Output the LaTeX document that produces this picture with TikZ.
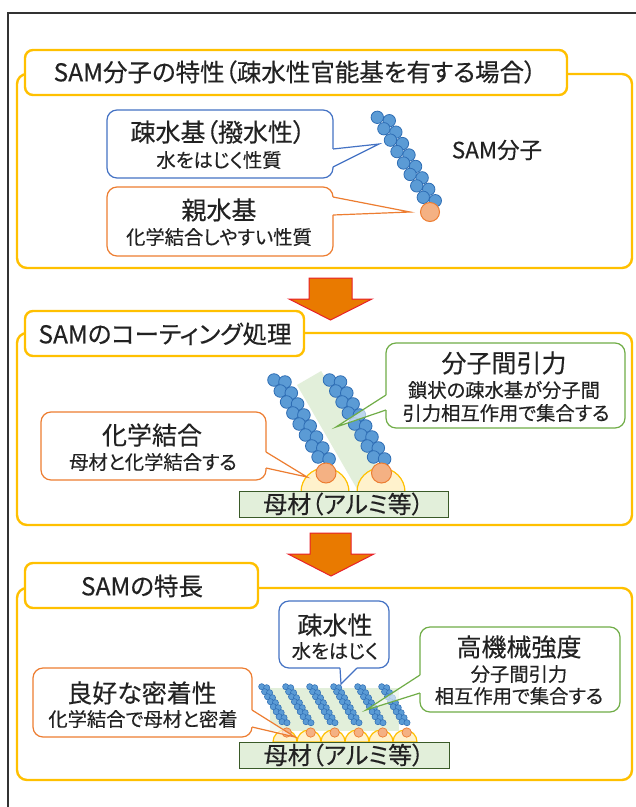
\documentclass[tikz,border=0pt]{standalone}
\usepackage{fontspec}
\setmainfont{Noto Sans CJK JP}[RawFeature={+palt}, FakeBold=0.35]
\definecolor{secyellow}{HTML}{FFC000}
\definecolor{callblue}{HTML}{4472C4}
\definecolor{callorange}{HTML}{ED7D31}
\definecolor{callgreen}{HTML}{70AD47}
\definecolor{beadfill}{HTML}{5B9BD5}
\definecolor{beadline}{HTML}{2E6DB4}
\definecolor{headfill}{HTML}{F4B183}
\definecolor{cupfill}{HTML}{FFF2CC}
\definecolor{shadegreen}{HTML}{E2EFDA}
\definecolor{subfill}{HTML}{E2EFDA}
\definecolor{subline}{HTML}{3A5A28}
\definecolor{arrowfill}{HTML}{E97A00}
\definecolor{arrowline}{HTML}{E8202A}
\definecolor{ink}{HTML}{222222}
\definecolor{framecol}{HTML}{333333}

% two staggered rows of beads: x0, y0, last index, radius, step dx, step dy, row offset dx, dy
\newcommand\molchain[9]{%
  \foreach \i in {0,...,#3}{%
    \path[#9] (#1+\i*#5, #2+\i*#6) circle[radius=#4];
    \path[#9] (#1+#7+\i*#5, #2+#8+\i*#6) circle[radius=#4];
  }}
% callout pointer: colour, base point 1, base point 2, tip
\newcommand\pointer[4]{%
  \draw[white, line width=2.6pt] (#2) -- (#3);
  \fill[white, fill opacity=.6] (#2) -- (#4) -- (#3) -- cycle;
  \draw[pointerline=#1] (#2) -- (#4) -- (#3);
}

\tikzset{
  section/.style={draw=secyellow, line width=2.4pt, rounded corners=10pt, fill=white, inner sep=0pt},
  titlebox/.style={draw=secyellow, line width=2.4pt, rounded corners=8pt, fill=white, inner sep=0pt},
  callbox/.style={draw=#1, line width=1.2pt, rounded corners=10pt, fill=white, inner sep=0pt},
  ttl/.style={text=ink, inner sep=0pt, font=\fontsize{24.5}{24.5}\selectfont},
  head/.style={text=ink, inner sep=0pt, font=\fontsize{25}{25}\selectfont},
  sub/.style={text=ink, inner sep=0pt, font=\fontsize{19.3}{19.3}\selectfont},
  bead/.style={fill=beadfill, draw=beadline, line width=0.8pt},
  smallbead/.style={fill=beadfill, draw=beadline, line width=0.5pt},
  headgroup/.style={fill=headfill, draw=callorange, line width=1pt},
  cup/.style={fill=cupfill, draw=secyellow, line width=1.2pt},
  substrate/.style={fill=subfill, draw=subline, line width=1pt, text=ink,
    font=\fontsize{24}{24}\selectfont, inner sep=0pt},
  bigarrow/.style={fill=arrowfill, draw=arrowline, line width=1pt, line join=miter},
  pointerline/.style={draw=#1, line width=1.2pt, line join=miter},
}

\begin{document}
\begin{tikzpicture}[x=1pt, y=-1pt]
\useasboundingbox (0,0) rectangle (636,807);
\fill[white] (0,0) rectangle (636,807);
\draw[framecol, line width=1.2pt] (8,13) rectangle (700,900);

% ---------- section frames ----------
\node[section, minimum width=615pt, minimum height=194pt] (sec1) at (324.5,171) {};
\node[titlebox, minimum width=542pt, minimum height=45pt] (sec1title) at (296,72.5) {};
\node[ttl] (t1) at (295,72) {SAM分子の特性（疎水性官能基を有する場合）};

\node[section, minimum width=615pt, minimum height=192pt] (sec2) at (324.5,429) {};
\node[titlebox, minimum width=279pt, minimum height=45pt] (sec2title) at (164.5,333.5) {};
\node[ttl] (t2) at (165,334) {SAMのコーティング処理};

\node[section, minimum width=615pt, minimum height=192pt] (sec3) at (324.5,684) {};
\node[titlebox, minimum width=233pt, minimum height=45pt] (sec3title) at (141.5,585.5) {};
\node[ttl] (t3) at (142,586) {SAMの特長};

% ---------- block arrows between sections ----------
\draw[bigarrow] (309,278) -- (352,278) -- (352,299) -- (372,299) -- (330.5,320)
  -- (289,299) -- (309,299) -- cycle;
\draw[bigarrow] (310,533) -- (351,533) -- (351,554) -- (374,554) -- (331,576)
  -- (288,554) -- (310,554) -- cycle;

% ---------- section 1: a single molecule ----------
\molchain{377.3}{117.3}{7}{6.2}{6.57}{11.43}{12}{3.4}{bead}
\path[headgroup] (430,212) circle[radius=9.5];
\coordinate (m1tail) at (379,144);
\coordinate (m1head) at (410,212);
\node[text=ink, inner sep=0pt, font=\fontsize{22.5}{22.5}\selectfont] (samlabel) at (497,150) {SAM分子};

\node[callbox=callblue, minimum width=226pt, minimum height=68pt] (c1a) at (220,144) {};
\node[head] at (218,132) {疎水基（撥水性）};
\node[sub] at (219,160) {水をはじく性質};
\coordinate (c1a1) at (333,149);
\coordinate (c1a2) at (333,167);
\pointer{callblue}{c1a1}{c1a2}{m1tail}

\node[callbox=callorange, minimum width=226pt, minimum height=69pt] (c1b) at (220,221.5) {};
\node[head] at (219,210) {親水基};
\node[sub] at (219,237) {化学結合しやすい性質};
\coordinate (c1b1) at (333,197);
\coordinate (c1b2) at (333,215);
\pointer{callorange}{c1b1}{c1b2}{m1head}

% ---------- section 2: coating ----------
\fill[shadegreen] (297,385) -- (321.2,371) -- (382.2,476.7) -- (358,490.7) -- cycle;
\path[cup] (301,492) arc[start angle=180, end angle=360, radius=24] -- cycle;
\path[cup] (357,492) arc[start angle=180, end angle=360, radius=24] -- cycle;
\molchain{274}{380}{7}{6.3}{6.3}{11}{11}{2}{bead}
\molchain{329.5}{380}{7}{6.3}{6.3}{11}{11}{2}{bead}
\path[headgroup] (326,473) circle[radius=10];
\path[headgroup] (381.5,473) circle[radius=10];
\node[substrate, minimum width=209pt, minimum height=26pt] (base2) at (343.5,504) {母材（アルミ等）};
\coordinate (m2gap) at (336,427);
\coordinate (m2bond) at (307,477);

\node[callbox=callgreen, minimum width=239pt, minimum height=85pt] (c2a) at (505.5,385.5) {};
\node[head] at (504,363) {分子間引力};
\node[sub] at (504,390) {鎖状の疎水基が分子間};
\node[sub] at (506,413) {引力相互作用で集合する};
\coordinate (c2a1) at (386,395);
\coordinate (c2a2) at (386,410);
\pointer{callgreen}{c2a1}{c2a2}{m2gap}

\node[callbox=callorange, minimum width=225pt, minimum height=68pt] (c2b) at (153.5,446) {};
\node[head] at (152,435) {化学結合};
\node[sub] at (153,462) {母材と化学結合する};
\coordinate (c2b1) at (266,452);
\coordinate (c2b2) at (266,468);
\pointer{callorange}{c2b1}{c2b2}{m2bond}

% ---------- section 3: dense monolayer ----------
\fill[shadegreen] (270,688) rectangle (399,731);
\foreach \k in {0,...,5}{
  \path[cup] (273+24*\k,742) arc[start angle=180, end angle=360, radius=12] -- cycle;
}
\foreach \k in {0,...,5}{
  \molchain{261.7+24*\k}{686.7}{7}{3.1}{2.9}{5.0}{5}{1}{smallbead}
  \path[headgroup, line width=0.7pt] (286.7+24*\k,732.5) circle[radius=4.7];
}
\node[substrate, minimum width=210pt, minimum height=26pt] (base3) at (344,755) {母材（アルミ等）};
\coordinate (m3top) at (341,684);
\coordinate (m3gap) at (366,710);
\coordinate (m3bond) at (295,737);

\node[callbox=callblue, minimum width=110pt, minimum height=67pt] (c3a) at (334,634.5) {};
\node[head] at (335,625) {疎水性};
\node[sub] at (335,651) {水をはじく};
\coordinate (c3a1) at (340,668);
\coordinate (c3a2) at (357,668);
\pointer{callblue}{c3a1}{c3a2}{m3top}

\node[callbox=callgreen, minimum width=200pt, minimum height=85pt] (c3b) at (520,669.5) {};
\node[head] at (519,647) {高機械強度};
\node[sub] at (519,674) {分子間引力};
\node[sub] at (519,696) {相互作用で集合する};
\coordinate (c3b1) at (420,675);
\coordinate (c3b2) at (420,693);
\pointer{callgreen}{c3b1}{c3b2}{m3gap}

\node[callbox=callorange, minimum width=219pt, minimum height=69pt] (c3c) at (142.5,702.5) {};
\node[head] at (142,693) {良好な密着性};
\node[sub] at (143,719) {化学結合で母材と密着};
\coordinate (c3c1) at (252,710);
\coordinate (c3c2) at (252,727);
\pointer{callorange}{c3c1}{c3c2}{m3bond}
\end{tikzpicture}
\end{document}
